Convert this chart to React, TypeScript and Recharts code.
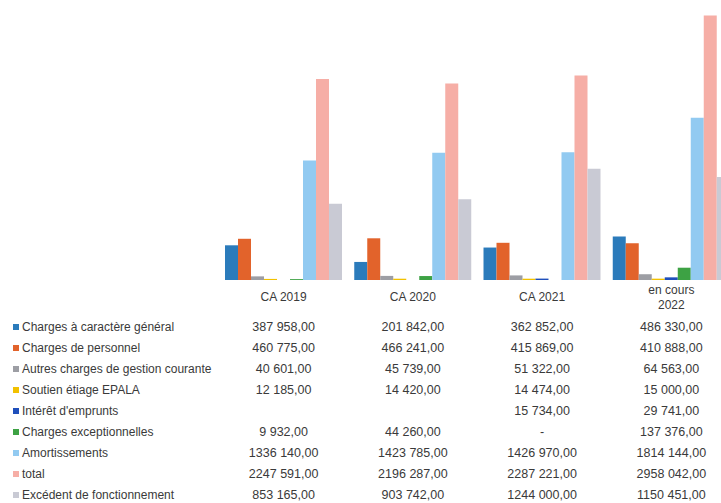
import React from "react";
import { BarChart, Bar, XAxis, YAxis } from "recharts";

const categories = ["CA 2019", "CA 2020", "CA 2021", "en cours 2022"];

const seriesNames = [
  "Charges à caractère général",
  "Charges de personnel",
  "Autres charges de gestion courante",
  "Soutien étiage EPALA",
  "Intérêt d'emprunts",
  "Charges exceptionnelles",
  "Amortissements",
  "total",
  "Excédent de fonctionnement",
];

const chargesGeneral = [387958, 201842, 362852, 486330];
const chargesPersonnel = [460775, 466241, 415869, 410888];
const autresCharges = [40601, 45739, 51322, 64563];
const soutienEtiage = [12185, 14420, 14474, 15000];
const interetEmprunts: (number | null)[] = [null, null, 15734, 29741];
const chargesExceptionnelles = [9932, 44260, 0, 137376];
const amortissements = [1336140, 1423785, 1426970, 1814144];
const totalValues = [2247591, 2196287, 2287221, 2958042];
const excedent = [853165, 903742, 1244000, 1150451];

const seriesColors = [
  "#2b7bbb",
  "#e2632b",
  "#9d9ea4",
  "#f2c100",
  "#1f4fbb",
  "#3da244",
  "#92caf1",
  "#f6aea6",
  "#c9cad4",
];

const seriesValues = [
  chargesGeneral,
  chargesPersonnel,
  autresCharges,
  soutienEtiage,
  interetEmprunts,
  chargesExceptionnelles,
  amortissements,
  totalValues,
  excedent,
];

const keys = seriesNames.map((_, i) => "s" + i);

const data = categories.map((c, ci) => {
  const row: Record<string, any> = { category: c };
  seriesValues.forEach((vals, si) => {
    row[keys[si]] = vals[ci];
  });
  return row;
});

const fmt = (v: number | null | undefined) => {
  if (v === null || v === undefined) return "";
  if (v === 0) return "-";
  const th = Math.floor(v / 1000);
  const rest = v % 1000;
  const restStr = String(rest).padStart(3, "0");
  return (th > 0 ? th + " " + restStr : String(rest)) + ",00";
};

const CHART_W = 740;
const PLOT_LEFT = 219;
const PLOT_RIGHT_MARGIN = 4;
const PLOT_H = 280;
const BAND = (CHART_W - PLOT_LEFT - PLOT_RIGHT_MARGIN) / categories.length;
const TEXT = "#3a3a3a";
const FONT = "'Liberation Sans', Arial, sans-serif";

const CategoryTick = (props: any) => {
  const { x, y, payload } = props;
  const label: string = payload.value;
  const words = label.split(" ");
  const lines = label.length > 10 ? [words.slice(0, words.length - 1).join(" "), words[words.length - 1]] : [label];
  return (
    <g>
      {lines.map((l, i) => (
        <text
          key={i}
          x={x}
          y={lines.length === 1 ? y + 21 : y + 14 + i * 15}
          textAnchor="middle"
          fontSize={12}
          fill={TEXT}
          fontFamily={FONT}
        >
          {l}
        </text>
      ))}
    </g>
  );
};

export default function App() {
  const rowY0 = 327;
  const rowStep = 21;
  return (
    <div
      style={{
        position: "fixed",
        top: 0,
        left: 0,
        width: 721,
        height: 503,
        overflow: "hidden",
        background: "#fff",
      }}
    >
      <BarChart
        width={CHART_W}
        height={PLOT_H + 40}
        data={data}
        margin={{ top: 0, left: PLOT_LEFT, right: PLOT_RIGHT_MARGIN, bottom: 0 }}
        barCategoryGap={6}
        barGap={0}
      >
        <XAxis
          dataKey="category"
          axisLine={false}
          tickLine={false}
          tickSize={0}
          tickMargin={0}
          height={40}
          interval={0}
          tick={<CategoryTick />}
        />
        <YAxis hide domain={[0, 3130000]} />
        {keys.map((k, i) => (
          <Bar key={k} dataKey={k} name={seriesNames[i]} fill={seriesColors[i]} isAnimationActive={false} />
        ))}
      </BarChart>
      <svg
        width={721}
        height={200}
        style={{ position: "absolute", left: 0, top: 310 }}
      >
        {seriesNames.map((name, si) => {
          const cy = rowY0 + si * rowStep - 310;
          return (
            <g key={name}>
              <rect x={13} y={cy - 3} width={6} height={6} fill={seriesColors[si]} />
              <text x={22} y={cy + 4} fontSize={12} fill={TEXT} fontFamily={FONT}>
                {name}
              </text>
              {categories.map((c, ci) => (
                <text
                  key={c}
                  x={PLOT_LEFT + BAND * (ci + 0.5)}
                  y={cy + 4}
                  fontSize={12.5}
                  fill={TEXT}
                  textAnchor="middle"
                  fontFamily={FONT}
                >
                  {fmt(seriesValues[si][ci])}
                </text>
              ))}
            </g>
          );
        })}
      </svg>
    </div>
  );
}
